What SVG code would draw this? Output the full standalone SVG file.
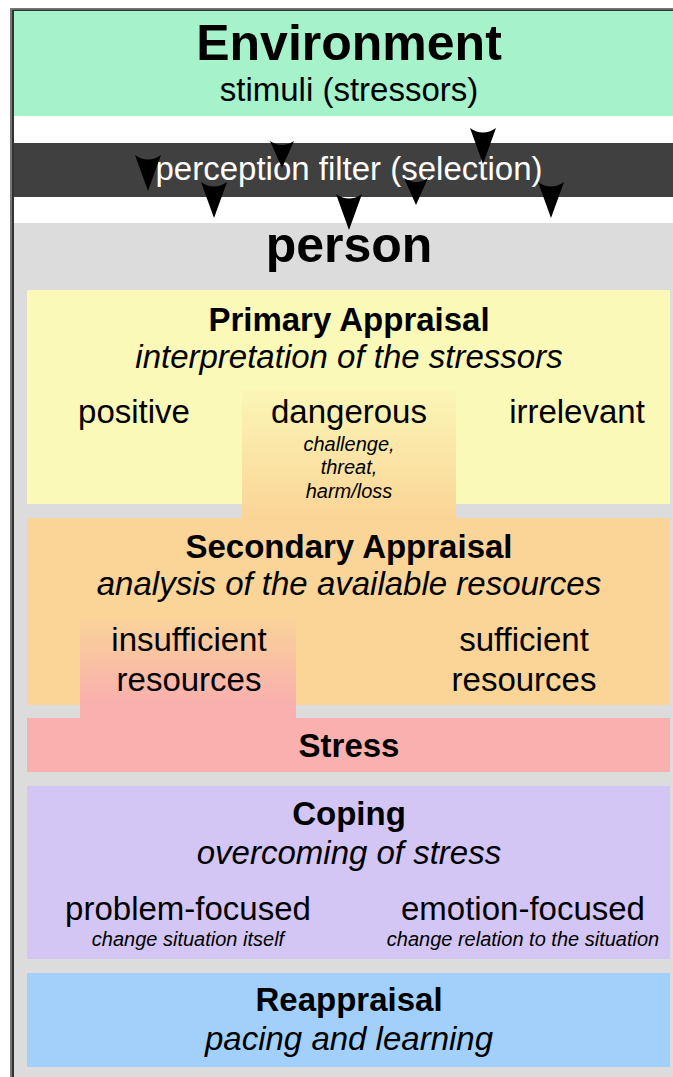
<svg xmlns="http://www.w3.org/2000/svg" width="673" height="1077" viewBox="0 0 673 1077">
<style>
text{font-family:"Liberation Sans",Arial,sans-serif;fill:#000;text-anchor:middle}
.b{font-weight:bold}
.i{font-style:italic}
.n{font-size:33px}
.s{font-size:20px;font-style:italic}
.w{fill:#fff}
</style>
<defs>
<linearGradient id="gDanger" x1="0" y1="0" x2="0" y2="1">
<stop offset="0" stop-color="#fbf6b6"/>
<stop offset="1" stop-color="#fad597"/>
</linearGradient>
<linearGradient id="gInsuf" x1="0" y1="0" x2="0" y2="1">
<stop offset="0" stop-color="#fad597"/>
<stop offset="0.85" stop-color="#f9b0ae"/>
<stop offset="1" stop-color="#f9b0ae"/>
</linearGradient>
<path id="ah" d="M-13,0 Q0,9 13,0 L0,36 Z" fill="#000"/>
<path id="ahs" d="M-12,0 Q0,8 12,0 L0,27 Z" fill="#000"/>
</defs>
<rect x="0" y="0" width="673" height="1077" fill="#fff"/>
<g id="frame">
<rect x="14" y="223" width="659" height="854" fill="#dcdcdc"/>
<line x1="11" y1="8" x2="11" y2="1077" stroke="#777" stroke-width="2"/>
<line x1="13" y1="10" x2="13" y2="1077" stroke="#333" stroke-width="2"/>
<line x1="10" y1="9" x2="673" y2="9" stroke="#777" stroke-width="2"/>
<line x1="12" y1="10.5" x2="673" y2="10.5" stroke="#333" stroke-width="1.5"/>
</g>
<g id="environment">
<rect x="14" y="11" width="659" height="105" fill="#a6f2ca"/>
<text class="b" x="349" y="60" font-size="50">Environment</text>
<text x="349" y="101" font-size="33">stimuli (stressors)</text>
</g>
<g id="filter">
<rect x="14" y="143" width="659" height="54" fill="#404040"/>
<text class="w" x="349" y="180" font-size="33">perception filter (selection)</text>
</g>
<g id="person">
<text class="b" x="349" y="262" font-size="50">person</text>
</g>
<g id="primary">
<rect x="27" y="290" width="643" height="214" fill="#fbf9b8"/>
<rect x="242" y="390" width="214" height="128" fill="url(#gDanger)"/>
<text class="b n" x="349" y="331">Primary Appraisal</text>
<text class="i n" x="349" y="368">interpretation of the stressors</text>
<text class="n" x="134" y="423">positive</text>
<text class="n" x="349" y="423">dangerous</text>
<text class="n" x="577" y="423">irrelevant</text>
<text class="s" x="349" y="451">challenge,</text>
<text class="s" x="349" y="474">threat,</text>
<text class="s" x="349" y="498">harm/loss</text>
</g>
<g id="secondary">
<rect x="27" y="518" width="643" height="187" fill="#fad597"/>
<rect x="80" y="613" width="216" height="106" fill="url(#gInsuf)"/>
<text class="b n" x="349" y="558">Secondary Appraisal</text>
<text class="i n" x="349" y="595">analysis of the available resources</text>
<text class="n" x="189" y="651">insufficient</text>
<text class="n" x="189" y="691">resources</text>
<text class="n" x="524" y="651">sufficient</text>
<text class="n" x="524" y="691">resources</text>
</g>
<g id="stress">
<rect x="27" y="718" width="643" height="54" fill="#f9b0ae"/>
<text class="b n" x="349" y="757">Stress</text>
</g>
<g id="coping">
<rect x="27" y="786" width="643" height="173" fill="#d3c6f4"/>
<text class="b n" x="349" y="825">Coping</text>
<text class="i n" x="349" y="864">overcoming of stress</text>
<text class="n" x="188" y="920">problem-focused</text>
<text class="s" x="188" y="946">change situation itself</text>
<text class="n" x="523" y="920">emotion-focused</text>
<text class="s" x="523" y="946">change relation to the situation</text>
</g>
<g id="reappraisal">
<rect x="27" y="973" width="643" height="94" fill="#a3d0fa"/>
<text class="b n" x="349" y="1011">Reappraisal</text>
<text class="i n" x="349" y="1050">pacing and learning</text>
</g>
<g id="connectors">
<use href="#ah" x="148" y="155"/>
<use href="#ahs" x="282" y="141"/>
<use href="#ah" x="483" y="128"/>
<use href="#ah" x="214" y="182"/>
<use href="#ah" x="349" y="194"/>
<use href="#ahs" x="416" y="178"/>
<use href="#ah" x="551" y="182"/>
</g>
</svg>
